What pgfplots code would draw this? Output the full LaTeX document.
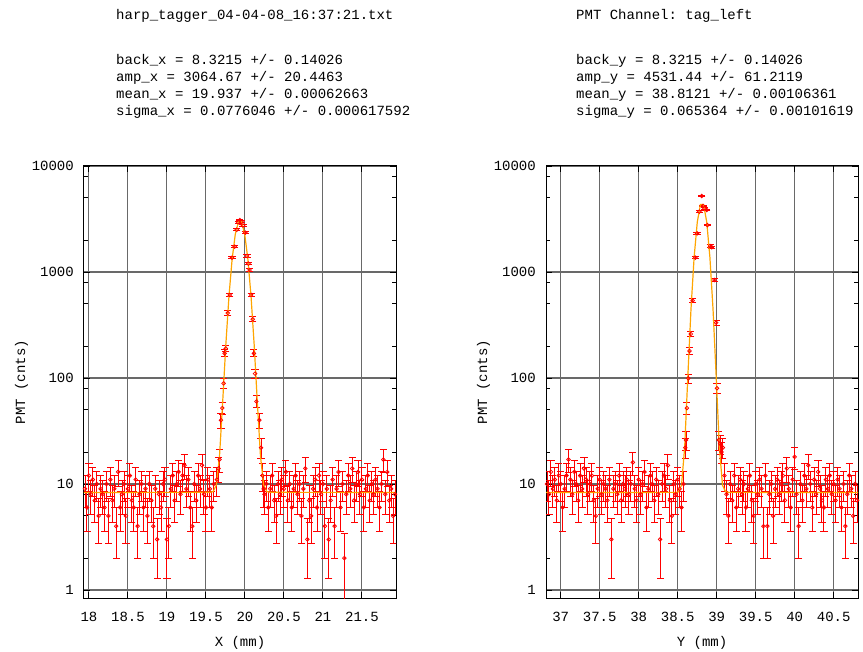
\documentclass[border=0pt]{standalone}
\usepackage{fontspec}
\setmainfont{Liberation Mono}
\setmonofont{Liberation Mono}
\usepackage{pgfplots}
\usepackage{pgfplotstable}
\pgfplotsset{compat=1.18}
\definecolor{fitorange}{RGB}{255,165,0}
\definecolor{gridgray}{RGB}{105,105,105}
\definecolor{datared}{RGB}{255,0,0}

\pgfplotstableread{
x y e
17.950 9 3.00
17.975 6 2.45
18.000 12 3.46
18.025 8 2.83
18.050 11 3.32
18.075 7 2.65
18.100 10 3.16
18.125 5 2.24
18.150 9 3.00
18.175 8 2.83
18.200 6 2.45
18.225 10 3.16
18.250 5 2.24
18.275 11 3.32
18.300 7 2.65
18.325 9 3.00
18.350 4 2.00
18.375 13 3.61
18.400 6 2.45
18.425 8 2.83
18.450 10 3.16
18.475 5 2.24
18.500 9 3.00
18.525 12 3.46
18.550 7 2.65
18.575 6 2.45
18.600 11 3.32
18.625 4 2.00
18.650 8 2.83
18.675 10 3.16
18.700 6 2.45
18.725 9 3.00
18.750 5 2.24
18.775 10 3.16
18.800 7 2.65
18.825 4 2.00
18.850 9 3.00
18.875 3 1.73
18.900 8 2.83
18.925 6 2.45
18.950 10 3.16
18.975 11 3.32
19.000 3 1.73
19.025 4 2.00
19.050 9 3.00
19.075 12 3.46
19.100 7 2.65
19.125 10 3.16
19.150 13 3.61
19.175 8 2.83
19.200 12 3.46
19.225 15 3.87
19.250 9 3.00
19.275 11 3.32
19.300 6 2.45
19.325 4 2.00
19.350 10 3.16
19.375 7 2.65
19.400 12 3.46
19.425 9 3.00
19.450 15 3.87
19.475 8 2.83
19.500 6 2.45
19.525 11 3.32
19.550 9 3.00
19.575 6 2.45
19.600 10 3.16
19.640 11 3.32
19.660 14 3.74
19.675 17 4.12
19.693 40 6.32
19.710 52 7.21
19.726 89 9.43
19.740 171 13.1
19.755 190 13.8
19.780 410 20.2
19.805 607 24.6
19.834 1364 36.9
19.868 1733 41.6
19.895 2500 50.0
19.915 2950 54.3
19.935 3090 55.6
19.955 2980 54.6
19.975 2750 52.4
20.005 2350 48.5
20.027 1416 37.6
20.045 1200 34.6
20.060 1045 32.3
20.080 607 24.6
20.100 358 18.9
20.115 171 13.1
20.130 110 10.5
20.147 60 7.75
20.185 40 6.32
20.207 22 4.69
20.225 12 3.46
20.240 9 3.00
20.250 8 2.83
20.275 10 3.16
20.300 6 2.45
20.325 9 3.00
20.350 12 3.46
20.375 7 2.65
20.400 5 2.24
20.425 10 3.16
20.450 8 2.83
20.475 11 3.32
20.500 9 3.00
20.525 13 3.61
20.550 7 2.65
20.575 10 3.16
20.600 6 2.45
20.625 9 3.00
20.650 12 3.46
20.675 8 2.83
20.700 10 3.16
20.725 5 2.24
20.750 9 3.00
20.775 14 3.74
20.800 3 1.73
20.825 7 2.65
20.850 5 2.24
20.875 9 3.00
20.900 11 3.32
20.925 6 2.45
20.950 12 3.46
20.975 8 2.83
21.000 10 3.16
21.025 4 2.00
21.050 9 3.00
21.075 3 1.73
21.100 7 2.65
21.125 11 3.32
21.150 4 2.00
21.175 9 3.00
21.200 13 3.61
21.225 6 2.45
21.250 10 3.16
21.275 2 1.41
21.300 8 2.83
21.325 12 3.46
21.350 9 3.00
21.375 14 3.74
21.400 7 2.65
21.425 10 3.16
21.450 13 3.61
21.475 8 2.83
21.500 11 3.32
21.525 6 2.45
21.550 9 3.00
21.575 12 3.46
21.600 7 2.65
21.625 10 3.16
21.650 8 2.83
21.675 11 3.32
21.700 9 3.00
21.725 6 2.45
21.750 10 3.16
21.775 17 4.12
21.800 8 2.83
21.825 13 3.61
21.850 7 2.65
21.875 9 3.00
21.900 5 2.24
21.925 8 2.83
}\datax

\pgfplotstableread{
x y
17.937 8.32
19.5532 8.34
19.5936 8.49
19.6340 9.80
19.6744 18.3
19.7148 59.2
19.7552 205
19.7956 591
19.8360 1322
19.8764 2268
19.9168 2972
19.9572 2972
19.9976 2268
20.0380 1322
20.0784 591
20.1188 205
20.1592 59.2
20.1996 18.3
20.2400 9.80
20.2804 8.49
20.3208 8.34
21.937 8.32
}\fitx

\pgfplotstableread{
x y e
36.825 10 3.16
36.850 8 2.83
36.875 13 3.61
36.900 9 3.00
36.925 11 3.32
36.950 7 2.65
36.975 12 3.46
37.000 10 3.16
37.025 6 2.45
37.050 9 3.00
37.075 12 3.46
37.100 17 4.12
37.125 11 3.32
37.150 8 2.83
37.175 13 3.61
37.200 10 3.16
37.225 7 2.65
37.250 12 3.46
37.275 9 3.00
37.300 14 3.74
37.325 11 3.32
37.350 8 2.83
37.375 10 3.16
37.400 12 3.46
37.425 7 2.65
37.450 5 2.24
37.475 9 3.00
37.500 11 3.32
37.525 8 2.83
37.550 10 3.16
37.575 9 3.00
37.600 7 2.65
37.625 11 3.32
37.650 3 1.73
37.675 9 3.00
37.700 10 3.16
37.725 8 2.83
37.750 12 3.46
37.775 7 2.65
37.800 10 3.16
37.825 9 3.00
37.850 11 3.32
37.875 8 2.83
37.900 10 3.16
37.925 16 4.00
37.950 9 3.00
37.975 7 2.65
38.000 11 3.32
38.025 8 2.83
38.050 10 3.16
38.075 13 3.61
38.100 6 2.45
38.125 9 3.00
38.150 12 3.46
38.175 10 3.16
38.200 7 2.65
38.225 11 3.32
38.250 8 2.83
38.275 3 1.73
38.300 10 3.16
38.325 12 3.46
38.350 9 3.00
38.375 15 3.87
38.400 7 2.65
38.425 5 2.24
38.450 10 3.16
38.475 8 2.83
38.500 11 3.32
38.525 9 3.00
38.550 6 2.45
38.575 10 3.16
38.598 22 4.69
38.607 26 5.10
38.618 52 7.21
38.637 99 9.95
38.652 180 13.4
38.668 260 16.1
38.692 536 23.2
38.727 1364 36.9
38.749 2317 48.1
38.778 3707 60.9
38.808 5212 72.2
38.825 4200 64.8
38.843 3990 63.2
38.872 3846 62.0
38.881 2773 52.7
38.916 1758 41.9
38.937 1710 41.4
38.972 842 29.0
38.994 333 18.2
39.003 80 8.94
39.027 26 5.10
39.045 24 4.90
39.062 20 4.47
39.079 22 4.69
39.100 12 3.46
39.125 8 2.83
39.150 5 2.24
39.175 10 3.16
39.200 7 2.65
39.225 12 3.46
39.250 6 2.45
39.275 9 3.00
39.300 11 3.32
39.325 8 2.83
39.350 10 3.16
39.375 6 2.45
39.400 9 3.00
39.425 12 3.46
39.450 7 2.65
39.475 5 2.24
39.500 10 3.16
39.525 8 2.83
39.550 11 3.32
39.575 9 3.00
39.600 4 2.00
39.625 12 3.46
39.650 4 2.00
39.675 8 2.83
39.700 10 3.16
39.725 5 2.24
39.750 9 3.00
39.775 11 3.32
39.800 8 2.83
39.825 10 3.16
39.850 12 3.46
39.875 7 2.65
39.900 14 3.74
39.925 9 3.00
39.950 6 2.45
39.975 11 3.32
40.000 18 4.24
40.025 8 2.83
40.050 4 2.00
40.075 10 3.16
40.100 7 2.65
40.125 12 3.46
40.150 9 3.00
40.175 15 3.87
40.200 10 3.16
40.225 6 2.45
40.250 11 3.32
40.275 8 2.83
40.300 13 3.61
40.325 9 3.00
40.350 7 2.65
40.375 6 2.45
40.400 11 3.32
40.425 9 3.00
40.450 12 3.46
40.475 8 2.83
40.500 10 3.16
40.525 7 2.65
40.550 11 3.32
40.575 9 3.00
40.600 6 2.45
40.625 10 3.16
40.650 4 2.00
40.675 8 2.83
40.700 12 3.46
40.725 9 3.00
40.750 5 2.24
40.775 10 3.16
40.800 7 2.65
}\datay

\pgfplotstableread{
x y
36.812 8.32
38.4687 8.33
38.5091 8.42
38.5495 9.74
38.5899 22.3
38.6303 103
38.6707 445
38.7111 1382
38.7515 2957
38.7919 4328
38.8323 4328
38.8727 2957
38.9131 1382
38.9535 445
38.9939 103
39.0343 22.3
39.0747 9.74
39.1151 8.42
39.1555 8.33
40.812 8.32
}\fity

\begin{document}
\begin{tikzpicture}
\path[use as bounding box] (0pt,0pt) rectangle (863pt,-652pt);
\begin{scope}[font=\fontsize{14}{14}\selectfont\ttfamily]
\node[anchor=base west, inner sep=0pt] at (116pt,-19.5pt) {harp\_tagger\_04-04-08\_16:37:21.txt};
\node[anchor=base west, inner sep=0pt] at (116pt,-64.5pt) {back\_x = 8.3215 +/- 0.14026};
\node[anchor=base west, inner sep=0pt] at (116pt,-81.5pt) {amp\_x = 3064.67 +/- 20.4463};
\node[anchor=base west, inner sep=0pt] at (116pt,-98.5pt) {mean\_x = 19.937 +/- 0.00062663};
\node[anchor=base west, inner sep=0pt] at (116pt,-115.5pt) {sigma\_x = 0.0776046 +/- 0.000617592};
\node[anchor=base west, inner sep=0pt] at (576pt,-19.5pt) {PMT Channel: tag\_left};
\node[anchor=base west, inner sep=0pt] at (576pt,-64.5pt) {back\_y = 8.3215 +/- 0.14026};
\node[anchor=base west, inner sep=0pt] at (576pt,-81.5pt) {amp\_y = 4531.44 +/- 61.2119};
\node[anchor=base west, inner sep=0pt] at (576pt,-98.5pt) {mean\_y = 38.8121 +/- 0.00106361};
\node[anchor=base west, inner sep=0pt] at (576pt,-115.5pt) {sigma\_y = 0.065364 +/- 0.00101619};
\end{scope}

\begin{axis}[at={(84pt,-598pt)}, anchor=south west,
  scale only axis, width=312pt, height=432pt,
  ymode=log, ymin=0.84, ymax=10000,
  ytick={1,10,100,1000,10000},
  yticklabels={1,10,100,1000,10000},
  minor ytick={2,5,8,20,50,80,200,500,800,2000,5000,8000},
  xmajorgrids=true, ymajorgrids=true,
  major grid style={gridgray, line width=1.1pt},
  axis line style={black, line width=1pt},
  tick align=inside,
  major tick length=6pt, minor tick length=4pt,
  tick style={black, line width=0.9pt},
  tick label style={font=\fontsize{14}{14}\selectfont\ttfamily, inner sep=0pt},
  yticklabel style={anchor=east, xshift=-10pt},
  xticklabel style={anchor=center, yshift=-19pt},
  label style={font=\fontsize{14}{14}\selectfont\ttfamily},
  xlabel style={at={(axis description cs:0.5,-0.104)}, anchor=center},
  ylabel style={at={(axis description cs:-0.2,0.5)}, anchor=center},
  xmin=17.937, xmax=21.937,
  xtick={18,18.5,19,19.5,20,20.5,21,21.5},
  xticklabels={18,18.5,19,19.5,20,20.5,21,21.5},
  xlabel={X (mm)}, ylabel={PMT (cnts)}]
\addplot[datared, mark=o, mark size=1.8pt, only marks, line width=0.8pt,
  error bars/y dir=both, error bars/y explicit,
  error bars/error bar style={datared, line width=1pt},
  error bars/error mark options={rotate=90, datared, mark size=3.6pt, line width=1pt}]
  table[x=x, y=y, y error=e] {\datax};
\addplot[fitorange, line width=1.2pt, no marks] table[x=x, y=y] {\fitx};
\end{axis}

\begin{axis}[at={(546pt,-598pt)}, anchor=south west,
  scale only axis, width=312pt, height=432pt,
  ymode=log, ymin=0.84, ymax=10000,
  ytick={1,10,100,1000,10000},
  yticklabels={1,10,100,1000,10000},
  minor ytick={2,5,8,20,50,80,200,500,800,2000,5000,8000},
  xmajorgrids=true, ymajorgrids=true,
  major grid style={gridgray, line width=1.1pt},
  axis line style={black, line width=1pt},
  tick align=inside,
  major tick length=6pt, minor tick length=4pt,
  tick style={black, line width=0.9pt},
  tick label style={font=\fontsize{14}{14}\selectfont\ttfamily, inner sep=0pt},
  yticklabel style={anchor=east, xshift=-10pt},
  xticklabel style={anchor=center, yshift=-19pt},
  label style={font=\fontsize{14}{14}\selectfont\ttfamily},
  xlabel style={at={(axis description cs:0.5,-0.104)}, anchor=center},
  ylabel style={at={(axis description cs:-0.2,0.5)}, anchor=center},
  xmin=36.812, xmax=40.812,
  xtick={37,37.5,38,38.5,39,39.5,40,40.5},
  xticklabels={37,37.5,38,38.5,39,39.5,40,40.5},
  xlabel={Y (mm)}, ylabel={PMT (cnts)}]
\addplot[datared, mark=o, mark size=1.8pt, only marks, line width=0.8pt,
  error bars/y dir=both, error bars/y explicit,
  error bars/error bar style={datared, line width=1pt},
  error bars/error mark options={rotate=90, datared, mark size=3.6pt, line width=1pt}]
  table[x=x, y=y, y error=e] {\datay};
\addplot[fitorange, line width=1.2pt, no marks] table[x=x, y=y] {\fity};
\end{axis}
\end{tikzpicture}
\end{document}
